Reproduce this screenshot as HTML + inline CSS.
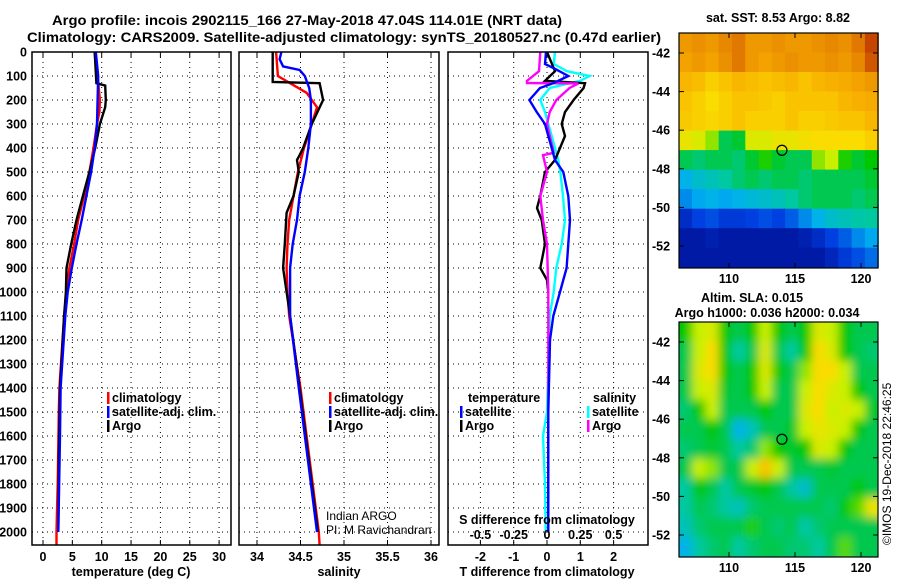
<!DOCTYPE html>
<html><head><meta charset="utf-8"><style>
html,body{margin:0;padding:0;background:#fff;}
svg{display:block;font-family:"Liberation Sans",sans-serif;}
.b{font-weight:bold;font-size:12.5px;}
.t{font-weight:bold;font-size:14px;}
</style></head><body>
<svg id="c" width="900" height="580" viewBox="0 0 900 580" xmlns="http://www.w3.org/2000/svg">
<defs>
<clipPath id="cp1"><rect x="32" y="52" width="199" height="493"/></clipPath>
<clipPath id="cp2"><rect x="239" y="52" width="200" height="493"/></clipPath>
<clipPath id="cp3"><rect x="448" y="52" width="200" height="493"/></clipPath>
<clipPath id="cm2"><rect x="679" y="322" width="199" height="235"/></clipPath>
<filter id="blur" x="-5%" y="-5%" width="110%" height="110%"><feGaussianBlur stdDeviation="4.5"/></filter>
</defs>
<text class="t" x="52" y="25" textLength="510" lengthAdjust="spacingAndGlyphs">Argo profile: incois 2902115_166 27-May-2018 47.04S 114.01E (NRT data)</text>
<text class="t" x="27" y="42" textLength="634" lengthAdjust="spacingAndGlyphs">Climatology: CARS2009. Satellite-adjusted climatology: synTS_20180527.nc (0.47d earlier)</text>
<text class="b" x="778" y="22" text-anchor="middle">sat. SST: 8.53 Argo: 8.82</text>
<text class="b" x="752" y="302" text-anchor="middle">Altim. SLA: 0.015</text>
<text class="b" x="767" y="317" text-anchor="middle">Argo h1000: 0.036 h2000: 0.034</text>
<g id="layer"></g>
<text x="891" y="545" transform="rotate(-90 891 545)" font-size="12">©IMOS 19-Dec-2018 22:46:25</text>
</svg>
<script>
// ---------- data ----------
const depthTicks=[0,100,200,300,400,500,600,700,800,900,1000,1100,1200,1300,1400,1500,1600,1700,1800,1900,2000];
const tempTicks=[0,5,10,15,20,25,30];
const salTicks=[34,34.5,35,35.5,36];
const salTickLabels=["34","34.5","35","35.5","36"];
const dTTicks=[-2,-1,0,1,2];
const dSTicks=[-0.5,-0.25,0,0.25,0.5];
const dSTickLabels=["-0.5","-0.25","0","0.25","0.5"];
// temperature profiles
const argoTDepth=[0,130,140,200,230,300,400,500,600,700,800,900,1000,1100,1400,1700,2000];
const argoT=[8.8,9.1,10.6,10.7,10.6,9.7,8.9,7.9,6.8,5.7,4.8,4.0,3.9,3.6,2.9,2.7,2.6];
const climTDepth=[0,100,200,250,300,400,500,600,700,800,900,1000,1100,1400,1500,1800,2000,2055];
const climT=[8.8,9.3,9.7,9.6,9.2,8.6,7.9,7.0,6.0,5.3,4.5,4.0,3.6,2.8,2.7,2.5,2.3,2.3];
const satTDepth=[0,100,200,300,400,500,600,700,800,900,1000,1100,1400,1600,2000];
const satT=[9.0,9.4,9.3,9.2,8.8,8.2,7.4,6.6,5.7,4.9,4.2,3.8,3.0,2.9,2.6];
// salinity profiles
const argoSDepth=[0,125,130,200,300,400,430,450,500,600,670,800,900,1000,1100,1400,2000];
const argoS=[34.18,34.18,34.72,34.76,34.63,34.53,34.49,34.46,34.48,34.42,34.34,34.32,34.30,34.34,34.38,34.49,34.70];
const climSDepth=[0,100,130,170,230,300,400,500,600,700,800,900,1000,1100,1400,2000,2055];
const climS=[34.22,34.24,34.38,34.57,34.69,34.63,34.54,34.47,34.42,34.37,34.35,34.34,34.35,34.37,34.50,34.71,34.72];
const satSDepth=[0,30,60,75,100,150,200,300,400,500,600,700,800,900,1000,1100,1400,2000];
const satS=[34.28,34.26,34.30,34.49,34.55,34.60,34.62,34.62,34.59,34.55,34.49,34.46,34.41,34.38,34.38,34.38,34.48,34.69];
// differences
const argoDTDepth=[0,80,120,130,150,200,250,300,350,400,450,500,600,650,700,800,900,950,1000];
const argoDT=[0,0.24,-0.06,1.14,1.1,0.8,0.54,0.44,0.54,0.39,0.24,-0.06,-0.2,-0.3,-0.16,-0.06,-0.2,0,0.04];
const satDTDepth=[0,50,70,100,130,150,200,250,300,400,450,500,600,700,800,900,1000,1100,1200,1500,2000];
const satDT=[-0.03,-0.06,0.24,0.64,0.19,-0.21,-0.53,-0.31,-0.06,0.14,0.24,0.49,0.64,0.69,0.64,0.59,0.39,0.19,0.09,0.04,0.04];
const argoDSDepth=[0,80,120,129,131,150,200,250,300,420,430,500,600,700,800,1000,2000];
const argoDS=[-0.05,-0.06,-0.15,-0.15,0.235,0.17,0.07,0.02,0,0.05,-0.03,0,-0.05,-0.03,0,0.01,0.01];
const satDSDepth=[0,50,80,100,120,150,200,250,350,450,500,600,700,800,900,1000,1100,1500,1600,1800,2000];
const satDS=[0.06,0.05,0.15,0.32,0.25,0.02,-0.05,-0.015,0.035,0.085,0.1,0.12,0.135,0.11,0.07,0.05,0.02,0,-0.03,-0.015,-0.01];
// maps
const latTicks=[-42,-44,-46,-48,-50,-52];
const lonTicks=[110,115,120];
const sstGrid=[
[.8,.82,.8,.84,.86,.8,.8,.82,.8,.8,.82,.84,.82,.86,.92],
[.78,.8,.78,.82,.86,.8,.78,.8,.82,.8,.8,.82,.8,.84,.9],
[.74,.73,.7,.72,.74,.73,.72,.73,.74,.72,.74,.75,.76,.78,.8],
[.72,.7,.68,.7,.72,.72,.71,.7,.72,.72,.72,.72,.74,.75,.76],
[.71,.7,.69,.7,.72,.7,.7,.7,.72,.7,.7,.71,.72,.72,.74],
[.66,.64,.6,.5,.52,.64,.64,.66,.66,.67,.68,.68,.68,.68,.7],
[.5,.48,.5,.5,.48,.52,.56,.52,.5,.5,.6,.62,.56,.52,.55],
[.36,.4,.42,.45,.48,.5,.48,.5,.5,.48,.5,.5,.5,.5,.52],
[.3,.34,.36,.34,.36,.38,.4,.42,.45,.48,.5,.5,.5,.48,.5],
[.14,.2,.22,.18,.18,.2,.22,.2,.24,.3,.36,.4,.42,.44,.45],
[.08,.08,.1,.08,.08,.08,.08,.08,.08,.1,.14,.2,.24,.3,.34],
[.08,.08,.08,.08,.08,.08,.08,.08,.08,.08,.08,.12,.18,.22,.26]];
const slaGrid=[
[.55,.62,.64,.55,.5,.55,.62,.55,.5,.55,.64,.62,.55,.5,.5],
[.5,.62,.68,.55,.45,.5,.64,.5,.45,.55,.68,.64,.55,.5,.48],
[.5,.64,.68,.55,.5,.55,.64,.55,.5,.6,.68,.68,.62,.5,.5],
[.5,.62,.64,.52,.5,.55,.62,.5,.5,.62,.68,.64,.62,.55,.5],
[.48,.55,.62,.5,.5,.5,.55,.5,.5,.64,.68,.62,.64,.62,.52],
[.5,.5,.55,.5,.36,.42,.5,.5,.52,.62,.66,.64,.62,.55,.5],
[.48,.5,.52,.5,.45,.48,.6,.55,.52,.55,.64,.62,.55,.5,.5],
[.5,.62,.6,.5,.5,.62,.72,.62,.5,.5,.5,.52,.5,.5,.5],
[.45,.55,.5,.45,.5,.52,.55,.5,.45,.4,.5,.5,.5,.55,.5],
[.45,.5,.48,.45,.42,.48,.5,.5,.5,.5,.5,.48,.54,.58,.66],
[.42,.48,.5,.5,.5,.56,.5,.48,.5,.44,.48,.5,.5,.5,.5],
[.36,.45,.48,.5,.45,.48,.5,.5,.48,.48,.45,.5,.58,.5,.5]];
const argoLon=114.01, argoLat=-47.04;

// ---------- scales ----------
const NS="http://www.w3.org/2000/svg";
const L=document.getElementById('layer');
const yD=d=>52+d*0.24;
const xT=t=>43+t*5.87;
const xS=s=>257+(s-34)*87;
const xDT=v=>547+v*33.3;
const xDS=v=>547+v*133.2;
const lonX=lon=>729+(lon-110)*13.2;
const latY1=lat=>53+(-42-lat)*19.3;
const latY2=lat=>342+(-42-lat)*19.3;
function mk(tag,attrs,parent){const e=document.createElementNS(NS,tag);for(const k in attrs)e.setAttribute(k,attrs[k]);(parent||L).appendChild(e);return e;}
function cmap(v){
 const st=[[0,0,0,128],[0.2,0,64,224],[0.35,0,176,240],[0.45,0,200,160],[0.55,0,200,0],[0.62,200,240,0],[0.68,250,220,0],[0.75,248,176,0],[0.85,230,130,0],[1,160,0,0]];
 v=Math.max(0,Math.min(1,v));
 for(let i=1;i<st.length;i++){if(v<=st[i][0]){const a=st[i-1],b=st[i],f=(v-a[0])/(b[0]-a[0]);return `rgb(${Math.round(a[1]+f*(b[1]-a[1]))},${Math.round(a[2]+f*(b[2]-a[2]))},${Math.round(a[3]+f*(b[3]-a[3]))})`;}}
}

// ---------- profile panels ----------
const panels=[{x:32,w:199,clip:'cp1',name:'temperature-panel'},{x:239,w:200,clip:'cp2',name:'salinity-panel'},{x:448,w:200,clip:'cp3',name:'difference-panel'}];
panels.forEach((p,i)=>{
 const g=mk('g',{});
 
 
 depthTicks.forEach(d=>{ if(d>0) mk('line',{x1:p.x,x2:p.x+p.w,y1:yD(d),y2:yD(d),stroke:'#000','stroke-width':1,'stroke-dasharray':'1,4'},g); });
 let xs=i==0?tempTicks.map(xT):i==1?salTicks.map(xS):dTTicks.map(xDT);
 xs.forEach(x=>{ mk('line',{x1:x,x2:x,y1:52,y2:545,stroke:'#000','stroke-width':1,'stroke-dasharray':'1,4'},g); mk('line',{x1:x,x2:x,y1:545,y2:540,stroke:'#000'},g); mk('line',{x1:x,x2:x,y1:52,y2:57,stroke:'#000'},g);});
});
depthTicks.forEach(d=>{
 const t=mk('text',{x:27,y:yD(d)+4.5,'text-anchor':'end',class:'b'});
 t.textContent=d;
 
 
});
function line(xf,xs,ds,color,clip,name){
 const pts=xs.map((v,i)=>xf(v).toFixed(1)+','+yD(ds[i]).toFixed(1)).join(' ');
 const e=mk('polyline',{points:pts,fill:'none',stroke:color,'stroke-width':2.4,'stroke-linejoin':'miter','clip-path':`url(#${clip})`});
 
 
}
line(xT,climT,climTDepth,'#f00','cp1','climatology-temperature-line');
line(xT,argoT,argoTDepth,'#000','cp1','argo-temperature-line');
line(xT,satT,satTDepth,'#0000ff','cp1','satellite-temperature-line');
line(xS,climS,climSDepth,'#f00','cp2','climatology-salinity-line');
line(xS,argoS,argoSDepth,'#000','cp2','argo-salinity-line');
line(xS,satS,satSDepth,'#0000ff','cp2','satellite-salinity-line');
line(xDS,satDS,satDSDepth,'#00ffff','cp3','satellite-salinity-diff-line');
line(xDT,argoDT,argoDTDepth,'#000','cp3','argo-temperature-diff-line');
line(xDS,argoDS,argoDSDepth,'#ff00ff','cp3','argo-salinity-diff-line');
line(xDT,satDT,satDTDepth,'#0000ff','cp3','satellite-temperature-diff-line');
panels.forEach(p=>{
 const r=mk('rect',{x:p.x,y:52,width:p.w,height:493,fill:'none',stroke:'#000','stroke-width':1.5});
 
 
});
// x tick labels
tempTicks.forEach(v=>{const t=mk('text',{x:xT(v),y:561,'text-anchor':'middle',class:'b'});t.textContent=v;
 
 });
salTicks.forEach((v,i)=>{const t=mk('text',{x:xS(v),y:561,'text-anchor':'middle',class:'b'});t.textContent=salTickLabels[i];
 
 });
dTTicks.forEach(v=>{const t=mk('text',{x:xDT(v),y:561,'text-anchor':'middle',class:'b'});t.textContent=v;
 
 });
dSTicks.forEach((v,i)=>{const t=mk('text',{x:xDS(v),y:539,'text-anchor':'middle',class:'b'});t.textContent=dSTickLabels[i];
 
 });
function txt(x,y,s,name,anchor,cls){const t=mk('text',{x:x,y:y,'text-anchor':anchor||'start',class:cls||'b'});t.textContent=s;
 
 return t;}
txt(131,576,'temperature (deg C)','temperature-axis-title','middle');
txt(339,576,'salinity','salinity-axis-title','middle');
txt(547,576,'T difference from climatology','t-diff-axis-title','middle');
txt(547,524,'S difference from climatology','s-diff-axis-title','middle');
const ci=txt(326,520,'Indian ARGO','credit-indian-argo');ci.setAttribute('class','');ci.setAttribute('font-size','12');
const cp=txt(326,534,'PI: M Ravichandran','credit-pi');cp.setAttribute('class','');cp.setAttribute('font-size','12');
// legends
function leg(x,y,color,label,name){const r=mk('rect',{x:x,y:y-10,width:2.5,height:12,fill:color});
 
 
 txt(x+5,y,label,name);}
leg(107,402,'#f00','climatology','legend-climatology');
leg(107,416,'#00f','satellite-adj. clim.','legend-satellite-adj');
leg(107,430,'#000','Argo','legend-argo');
leg(329,402,'#f00','climatology','legend2-climatology');
leg(329,416,'#00f','satellite-adj. clim.','legend2-satellite-adj');
leg(329,430,'#000','Argo','legend2-argo');
txt(468,402,'temperature','legend3-temperature-header');
leg(460,416,'#00f','satellite','legend3-t-satellite');
leg(460,430,'#000','Argo','legend3-t-argo');
txt(593,402,'salinity','legend3-salinity-header');
leg(587,416,'#0ff','satellite','legend3-s-satellite');
leg(587,430,'#f0f','Argo','legend3-s-argo');

// ---------- maps ----------
function drawMap(grid,top,latY,name,smooth){
 const g=mk('g',{});
 
 
 const rows=grid.length, cols=grid[0].length;
 const lon0=106.2, lon1=121.3, lat0=-40.96, lat1=-53.1;
 const inner=mk('g',smooth?{filter:'url(#blur)'}:{},smooth?mk('g',{'clip-path':'url(#cm2)'},g):g);
 for(let r=0;r<rows;r++)for(let c=0;c<cols;c++){
  const la=lat0+(lat1-lat0)*r/rows, la2=lat0+(lat1-lat0)*(r+1)/rows;
  const lo=lon0+(lon1-lon0)*c/cols, lo2=lon0+(lon1-lon0)*(c+1)/cols;
  const pad=smooth?8:0;
  const x1=lonX(lo)-(c==0?pad:0), x2=lonX(lo2)+(c==cols-1?pad:0);
  const y1=latY(la)-(r==0?pad:0), y2=latY(la2)+(r==rows-1?pad:0);
  const cell=mk('rect',{x:x1.toFixed(1),y:y1.toFixed(1),width:(x2-x1+0.6).toFixed(1),height:(y2-y1+0.6).toFixed(1),fill:cmap(grid[r][c])},inner);
  
  
 }
 const f=mk('rect',{x:679,y:top,width:199,height:235,fill:'none',stroke:'#000','stroke-width':1.2},g);
 
 
 latTicks.forEach(la=>{const y=latY(la);mk('line',{x1:873,x2:878,y1:y,y2:y,stroke:'#000'},g);mk('line',{x1:679,x2:684,y1:y,y2:y,stroke:'#000'},g);
  const t=mk('text',{x:652,y:y+4.5,class:'b'},g);t.textContent=la;
  
  });
 lonTicks.forEach(lo=>{const x=lonX(lo);mk('line',{x1:x,x2:x,y1:top,y2:top+5,stroke:'#000'},g);mk('line',{x1:x,x2:x,y1:top+235,y2:top+230,stroke:'#000'},g);
  const t=mk('text',{x:x,y:top+250,'text-anchor':'middle',class:'b'},g);t.textContent=lo;
  
  });
 const m=mk('circle',{cx:lonX(argoLon),cy:latY(argoLat),r:5,fill:'none',stroke:'#000','stroke-width':1.2},g);
 
 
}
drawMap(sstGrid,33,latY1,'sst-map',false);
drawMap(slaGrid,322,latY2,'sla-map',true);
</script>
</body></html>
